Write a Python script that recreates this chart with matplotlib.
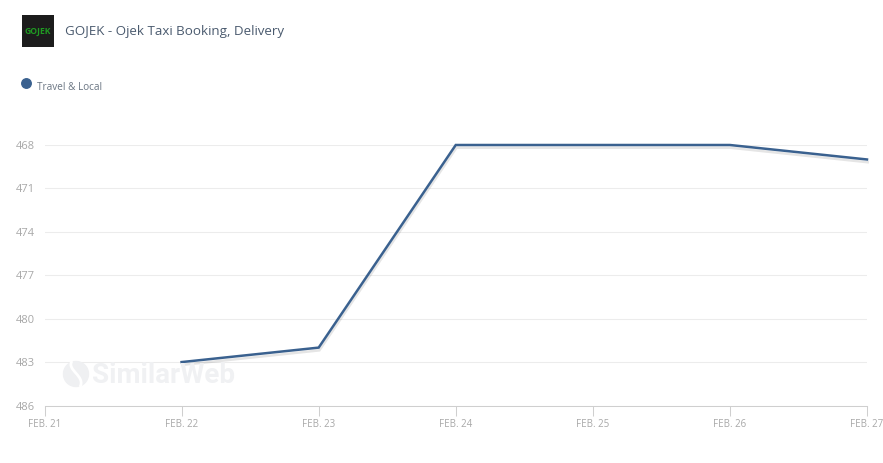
import matplotlib
matplotlib.use("Agg")
import matplotlib.pyplot as plt
from matplotlib.patches import Ellipse, PathPatch
from matplotlib.path import Path
import matplotlib.patheffects as pe

W, H = 883, 463

days = ["FEB. 21", "FEB. 22", "FEB. 23", "FEB. 24", "FEB. 25", "FEB. 26", "FEB. 27"]
rank_days = [1, 2, 3, 4, 5, 6]
ranks = [483, 482, 468, 468, 468, 469]
y_ticks = [468, 471, 474, 477, 480, 483, 486]

BLUE = "#3a618f"
TICK_GREY = "#a8a8a8"

plt.rcParams["font.family"] = ["Open Sans", "DejaVu Sans"]

fig = plt.figure(figsize=(W / 100, H / 100), dpi=100)

# plot area in pixels: x 44.5-867, y 145-405.5
ax = fig.add_axes([44.5 / W, 1 - 405.5 / H, (867 - 44.5) / W, (405.5 - 145) / H])
ax.set_xlim(0, 6)
ax.set_ylim(486, 468)
ax.patch.set_alpha(0)

ax.set_yticks(y_ticks)
ax.set_xticks(range(len(days)))
ax.set_xticklabels(days)
ax.grid(axis="y", color="#ececec", linewidth=0.75)
ax.set_axisbelow(True)
ax.tick_params(axis="y", length=0, pad=20.5, labelsize=8, labelcolor=TICK_GREY)
ax.tick_params(axis="x", length=7, width=0.75, color="#cfcfcf", pad=2.5, labelsize=7, labelcolor=TICK_GREY)
for lbl in ax.get_yticklabels():
    lbl.set_horizontalalignment("left")
for side in ["top", "left", "right"]:
    ax.spines[side].set_visible(False)
ax.spines["bottom"].set_color("#cfcfcf")
ax.spines["bottom"].set_linewidth(0.75)

# watermark sits under the line
fig.text(92 / W, 1 - 375.5 / H, "SimilarWeb", fontsize=20, fontweight="bold", color="#f0f1f3",
         family="Roboto", va="center", ha="left", zorder=0.5)
fig.add_artist(Ellipse((76 / W, 1 - 374 / H), 25 / W, 25 / H, color="#eff0f2", zorder=0.5))
swoosh = Path([(72 / W, 1 - 361 / H), (66 / W, 1 - 370 / H), (86 / W, 1 - 376 / H), (80 / W, 1 - 387 / H)],
              [Path.MOVETO, Path.CURVE4, Path.CURVE4, Path.CURVE4])
fig.add_artist(PathPatch(swoosh, facecolor="none", edgecolor="white", linewidth=2,
                         transform=fig.transFigure, zorder=0.6))

ax.plot(rank_days, ranks, color=BLUE, linewidth=1.8, solid_joinstyle="miter", clip_on=False,
        path_effects=[pe.SimpleLineShadow(offset=(0.5, -2), shadow_color="#000000", alpha=0.1),
                      pe.Normal()])

# app icon
icon = fig.add_axes([22 / W, 1 - 47 / H, 32 / W, 32 / H])
icon.set_facecolor("#1c1c1c")
icon.set_xticks([])
icon.set_yticks([])
for s in icon.spines.values():
    s.set_visible(False)
icon.text(0.5, 0.5, "GOJEK", color="#1f9a22", fontsize=6.2, fontweight="bold",
          ha="center", va="center", transform=icon.transAxes)

fig.text(65 / W, 1 - 32 / H, "GOJEK - Ojek Taxi Booking, Delivery", fontsize=9.6,
         color="#4a5a6e", va="center", ha="left")

# legend
fig.add_artist(Ellipse((26.5 / W, 1 - 83.5 / H), 9.5 / W, 9.5 / H, color=BLUE))
fig.text(37 / W, 1 - 87.5 / H, "Travel & Local", fontsize=7.2, color="#6b7683",
         va="center", ha="left")

fig.savefig("out.png", dpi=100)
